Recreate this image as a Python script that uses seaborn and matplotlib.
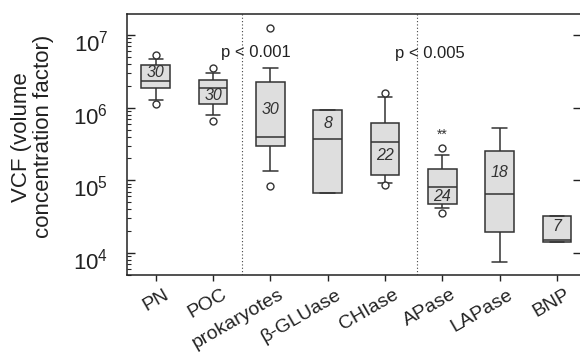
import numpy as np
import pandas as pd
import seaborn as sns
import matplotlib
matplotlib.use("Agg")
import matplotlib.pyplot as plt
import matplotlib.transforms as mtransforms
from matplotlib.ticker import LogLocator, NullFormatter

# ---------------- data ----------------
categories = ["PN", "POC", "prokaryotes", "\u03b2-GLUase", "CHIase", "APase", "LAPase", "BNP"]
whisker_low = [1.28e6, 7.9e5, 1.35e5, 6.7e4, 9.2e4, 4.2e4, 7.5e3, 1.42e4]
q1_values   = [1.87e6, 1.12e6, 2.97e5, 6.7e4, 1.18e5, 4.7e4, 1.95e4, 1.42e4]
medians     = [2.33e6, 1.87e6, 3.95e5, 3.7e5, 3.37e5, 8.1e4, 6.5e4, 1.51e4]
q3_values   = [3.86e6, 2.4e6, 2.25e6, 9.3e5, 6.15e5, 1.43e5, 2.53e5, 3.23e4]
whisker_high = [4.68e6, 3.0e6, 3.5e6, 9.3e5, 1.4e6, 2.23e5, 5.25e5, 3.23e4]
outlier_cats = ["PN", "PN", "POC", "POC", "prokaryotes", "prokaryotes",
                "CHIase", "CHIase", "APase", "APase"]
outlier_vals = [5.3e6, 1.12e6, 3.5e6, 6.6e5, 1.25e7, 8.4e4,
                1.59e6, 8.6e4, 2.79e5, 3.56e4]
n_values = [30, 30, 30, 8, 22, 24, 18, 7]
n_label_y = [3.0e6, 1.49e6, 9.3e5, 5.96e5, 2.23e5, 5.9e4, 1.3e5, 2.28e4]

# ---------------- build table ----------------
rows = []
for c, lo, a, m, b, hi in zip(categories, whisker_low, q1_values, medians,
                              q3_values, whisker_high):
    for v in (lo, a, m, b, hi):
        rows.append({"cat": c, "val": v})
df = pd.DataFrame(rows)
out_df = pd.DataFrame({"cat": outlier_cats, "val": outlier_vals})

sns.set_theme(style="ticks")
plt.rcParams["font.family"] = ["Liberation Sans", "DejaVu Sans"]
plt.rcParams["mathtext.fontset"] = "custom"
plt.rcParams["mathtext.rm"] = "Liberation Sans"
plt.rcParams["mathtext.it"] = "Liberation Sans:italic"

edge = "#333333"
fig = plt.figure(figsize=(5.8, 3.61), dpi=100)
ax = fig.add_axes([0.219, 0.2382, 0.7828, 0.723])

sns.boxplot(data=df, x="cat", y="val", order=categories, ax=ax,
            whis=(0, 100), width=0.5, color="#dedede", linecolor=edge,
            linewidth=1.1, fill=True, saturation=1, log_scale=(False, True),
            showfliers=False)
sns.stripplot(data=out_df, x="cat", y="val", order=categories, ax=ax,
              jitter=False, color="white", edgecolor=edge, linewidth=1.0,
              size=5, zorder=5)

ax.set_xlim(-0.5, 7.42)
ax.set_ylim(10**3.697, 10**7.289)

for i, (n, y) in enumerate(zip(n_values, n_label_y)):
    ax.text(i, y, str(n), ha="center", va="center", fontsize=11.5,
            style="italic", color=edge)

ax.text(5, 4.2e5, "**", ha="center", va="center", fontsize=10, color=edge)
ax.axvline(1.5, ls=(0, (1, 2)), color="#444444", lw=0.8)
ax.axvline(4.555, ls=(0, (1, 2)), color="#444444", lw=0.8)
ax.text(1.754, 10**6.766, "p < 0.001", ha="center", va="center",
        fontsize=12, color="#222222")
ax.text(4.79, 10**6.752, "p < 0.005", ha="center", va="center",
        fontsize=12, color="#222222")

# axes styling
for s in ["left", "bottom", "top", "right"]:
    ax.spines[s].set_visible(True)
    ax.spines[s].set_color("#222222")
    ax.spines[s].set_linewidth(1.1)
ax.yaxis.set_major_locator(LogLocator(base=10, numticks=10))
ax.yaxis.set_minor_locator(LogLocator(base=10, subs=np.arange(2, 10), numticks=20))
ax.yaxis.set_minor_formatter(NullFormatter())
ax.tick_params(axis="y", which="major", direction="in", length=5.5, width=1,
               labelsize=16, colors="#222222", right=True, pad=13.5)
ax.tick_params(axis="y", which="minor", direction="in", length=3, width=0.8,
               right=False)
ax.tick_params(axis="x", which="major", direction="out", length=4, width=1,
               labelsize=14, colors="#222222", pad=4)
ax.set_xlabel("")
ax.set_ylabel("VCF (volume\nconcentration factor)", fontsize=16,
              color="#222222", linespacing=1.1)
ax.yaxis.set_label_coords(-0.16, 0.53)

ydown = mtransforms.ScaledTranslation(0, -6 / 100, fig.dpi_scale_trans)
for lab in ax.get_yticklabels():
    lab.set_transform(lab.get_transform() + ydown)

offset = mtransforms.ScaledTranslation(8 / 100, 0, fig.dpi_scale_trans)
for lab in ax.get_xticklabels():
    lab.set_rotation(30)
    lab.set_ha("right")
    lab.set_va("top")
    lab.set_rotation_mode("anchor")
    lab.set_transform(lab.get_transform() + offset)

fig.savefig("out.png", dpi=100)
